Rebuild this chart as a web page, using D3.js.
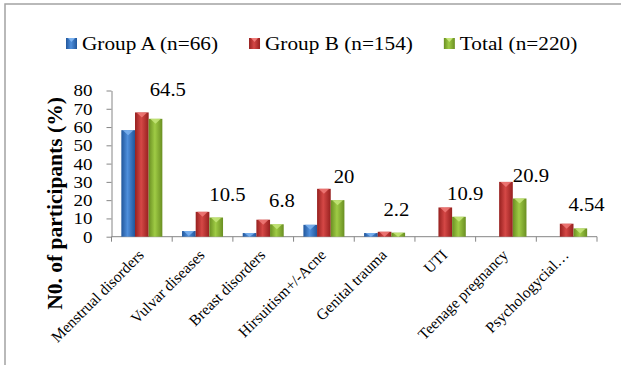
<!DOCTYPE html>
<html>
<head>
<meta charset="utf-8">
<script src="https://cdn.jsdelivr.net/npm/d3@7"></script>
<style>
  html, body { margin: 0; padding: 0; background: #fff; }
  svg { display: block; }
</style>
</head>
<body>
<svg id="chart" width="621" height="365"></svg>
<script>
// Chart data
const categories = ["Menstrual disorders", "Vulvar diseases", "Breast disorders", "Hirsuitism+/-Acne",
                    "Genital trauma", "UTI", "Teenage pregnancy", "Psychologycial…"];
const seriesNames = ["Group A (n=66)", "Group B (n=154)", "Total (n=220)"];
const groupA = [58.3, 3.1, 2.0, 6.5, 2.0, 0, 0, 0];
const groupB = [68, 13.6, 9.3, 26.2, 2.7, 16, 30, 7.1];
const total  = [64.5, 10.5, 6.8, 20, 2.2, 10.9, 20.9, 4.54];
const yTicks = [0, 10, 20, 30, 40, 50, 60, 70, 80];

// Bar styling per series: edge, middle and top-cap shades
const palette = [
  { edge: "#21569b", mid: "#4f8fdc", cap: "#7db3f0" },
  { edge: "#96201f", mid: "#d54846", cap: "#f07a78" },
  { edge: "#6a8f22", mid: "#9fcb45", cap: "#c6e67a" }
];
// small hand adjustments for the value labels of the Total series
const labelNudge = [[1, -6], [0, 0], [-1, 0], [3, 0], [-8, 0], [-5, 0], [0, 0], [-5, 0]];

const FONT = "Liberation Serif";
const SX = 1.12; // horizontal text widening
const svg = d3.select("#chart");

// outer frame
svg.append("rect").attr("x", 5).attr("y", 4).attr("width", 700).attr("height", 400)
  .attr("fill", "none").attr("stroke", "#a3a3a3").attr("stroke-width", 1.5);

const plot = { left: 111.5, right: 597, top: 90.5, bottom: 236.7 };

const x0 = d3.scaleBand().domain(categories).range([plot.left, plot.right]).paddingInner(0).paddingOuter(0);
const groupW = 41;
const x1 = d3.scaleBand().domain(seriesNames)
  .range([(x0.bandwidth() - groupW) / 2, (x0.bandwidth() + groupW) / 2]).padding(0);
const y = d3.scaleLinear().domain([0, 80]).range([plot.bottom, plot.top]);

// gradients
const defs = svg.append("defs");
palette.forEach((p, i) => {
  const g = defs.append("linearGradient").attr("id", "bar" + i)
    .attr("x1", "0%").attr("x2", "100%").attr("y1", "0%").attr("y2", "0%");
  g.append("stop").attr("offset", "0%").attr("stop-color", p.edge);
  g.append("stop").attr("offset", "45%").attr("stop-color", p.mid);
  g.append("stop").attr("offset", "100%").attr("stop-color", p.edge);
});

// y axis
const yAxis = d3.axisLeft(y).tickValues(yTicks).tickSize(5).tickPadding(14).tickSizeOuter(0);
const gy = svg.append("g").attr("transform", `translate(${plot.left},0)`).call(yAxis);
gy.attr("font-family", FONT);
gy.select(".domain").attr("stroke", "#868686");
gy.selectAll(".tick line").attr("stroke", "#868686");
gy.selectAll(".tick text")
  .style("font-family", FONT)
  .style("font-size", "17px").attr("fill", "#000")
  .each(function () {
    const t = d3.select(this);
    const tx = +t.attr("x");
    t.attr("x", 0).attr("transform", `translate(${tx},0) scale(${SX},1)`);
  });

// x axis line and boundary ticks
svg.append("line").attr("x1", plot.left).attr("x2", plot.right)
  .attr("y1", plot.bottom).attr("y2", plot.bottom).attr("stroke", "#868686");
const edges = categories.map(c => x0(c)).concat([plot.right]);
svg.selectAll(".xtick").data(edges).join("line").attr("class", "xtick")
  .attr("x1", d => d).attr("x2", d => d)
  .attr("y1", plot.bottom).attr("y2", plot.bottom + 5).attr("stroke", "#868686");

// bars
const series = [groupA, groupB, total];
series.forEach((vals, si) => {
  const g = svg.append("g");
  vals.forEach((v, ci) => {
    if (v <= 0) return;
    const bx = x0(categories[ci]) + x1(seriesNames[si]);
    const bw = x1.bandwidth();
    const top = y(v);
    g.append("rect").attr("x", bx).attr("y", top).attr("width", bw)
      .attr("height", plot.bottom - top).attr("fill", `url(#bar${si})`);
    const capH = Math.min(5, (plot.bottom - top));
    g.append("path")
      .attr("d", `M${bx + 1.5},${top} L${bx + bw - 1.5},${top} L${bx + bw / 2},${top + capH} Z`)
      .attr("fill", palette[si].cap).attr("opacity", 0.85);
  });
});

// value labels for Total series
total.forEach((v, ci) => {
  const gx = x0(categories[ci]) + x1(seriesNames[2]) + labelNudge[ci][0];
  const by = y(v) - 17 + labelNudge[ci][1];
  svg.append("text").attr("transform", `translate(${gx},${by}) scale(${SX},1)`)
    .style("font-family", FONT).style("font-size", "18.5px").text(v);
});

// category labels, rotated
categories.forEach(c => {
  const cx = x0(c) + x0.bandwidth() / 2 + 3;
  svg.append("text").attr("transform", `translate(${cx},256) rotate(-45)`)
    .attr("text-anchor", "end").style("font-family", FONT).style("font-size", "15.5px").text(c);
});

// y axis title
svg.append("text").attr("transform", `translate(62,${(97 + 310) / 2}) rotate(-90)`)
  .attr("text-anchor", "middle").style("font-family", FONT)
  .style("font-size", "21.5px").style("font-weight", "bold")
  .text("N0. of participants (%)");

// legend
let lx = 66;
seriesNames.forEach((name, si) => {
  const g = svg.append("g");
  g.append("rect").attr("x", lx).attr("y", 38).attr("width", 11).attr("height", 11)
    .attr("fill", `url(#bar${si})`);
  g.append("path").attr("d", `M${lx + 2},38 L${lx + 9},38 L${lx + 5.5},42 Z`).attr("fill", palette[si].cap);
  const t = g.append("text").attr("transform", `translate(${lx + 16},49.5) scale(${SX},1)`)
    .style("font-family", FONT).style("font-size", "19px").text(name);
  const w = t.node().getComputedTextLength() * SX;
  lx = lx + 16 + w + 31;
});
</script>
</body>
</html>
